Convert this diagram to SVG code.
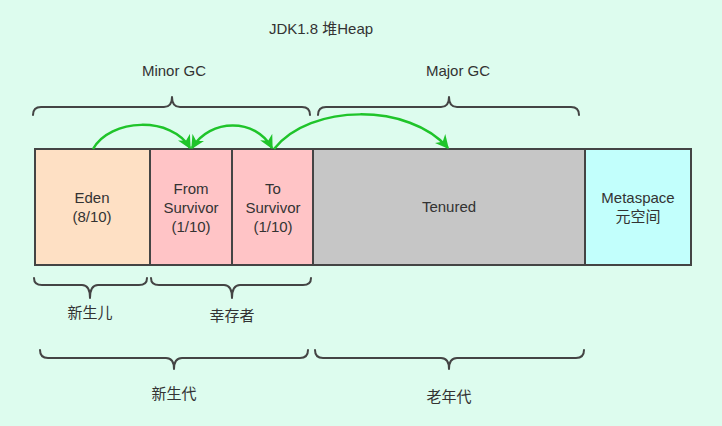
<svg xmlns="http://www.w3.org/2000/svg" width="722" height="426" viewBox="0 0 722 426">
<defs>
<style>
text{font-family:"Liberation Sans","Noto Sans CJK SC",sans-serif;font-size:15px;fill:#333;text-anchor:middle}
.box{stroke:#444;stroke-width:2}
.brace{fill:none;stroke:#444;stroke-width:2;stroke-linecap:round;stroke-linejoin:round}
.arr{fill:none;stroke:#1fc42a;stroke-width:2.5}
</style>
<marker id="ah" viewBox="0 0 10 10" refX="9" refY="5" markerWidth="5.5" markerHeight="5.5" orient="auto-start-reverse" markerUnits="strokeWidth">
<path d="M0,0 L10,5 L0,10 L3,5 z" fill="#1fc42a"/>
</marker>
</defs>
<rect width="722" height="426" fill="#ddfcee"/>
<text x="321" y="34">JDK1.8 堆Heap</text>
<g id="minor-gc">
<text x="174" y="76">Minor GC</text>
<path class="brace" d="M33,115 Q33,107 41,107 L164,107 Q172,107 172,97 Q172,107 180,107 L302,107 Q310,107 310,115"/>
</g>
<g id="major-gc">
<text x="458" y="76">Major GC</text>
<path class="brace" d="M318,115 Q318,107 326,107 L441,107 Q449,107 449,97 Q449,107 457,107 L571,107 Q579,107 579,115"/>
</g>
<g id="eden"><rect class="box" x="35" y="149" width="115" height="116" fill="#fee0c4"/>
<text x="92" y="203">Eden</text><text x="92" y="222">(8/10)</text></g>
<g id="from"><rect class="box" x="150" y="149" width="82" height="116" fill="#ffc4c6"/>
<text x="191" y="194">From</text><text x="191" y="213">Survivor</text><text x="191" y="232">(1/10)</text></g>
<g id="to"><rect class="box" x="232" y="149" width="81" height="116" fill="#ffc4c6"/>
<text x="273" y="194">To</text><text x="273" y="213">Survivor</text><text x="273" y="232">(1/10)</text></g>
<g id="tenured"><rect class="box" x="313" y="149" width="272" height="116" fill="#c6c6c6"/>
<text x="449" y="212">Tenured</text></g>
<g id="metaspace"><rect class="box" x="585" y="149" width="106" height="116" fill="#c2fffc"/>
<text x="638" y="203">Metaspace</text><text x="638" y="222">元空间</text></g>
<g id="connectors">
<path class="arr" d="M93,149 C110,118 172,116 190,148" marker-end="url(#ah)"/>
<path class="arr" d="M192,148 C210,118 256,118 272,148" marker-start="url(#ah)" marker-end="url(#ah)"/>
<path class="arr" d="M274,149 C310,103 410,103 448,148" marker-end="url(#ah)"/>
</g>
<g id="xinshenger">
<path class="brace" d="M34,278 Q34,285 42,285 L82,285 Q90,285 90,298 Q90,285 98,285 L139,285 Q147,285 147,278"/>
<text x="90" y="318">新生儿</text></g>
<g id="xingcunzhe">
<path class="brace" d="M151,278 Q151,285 159,285 L224,285 Q232,285 232,298 Q232,285 240,285 L303,285 Q311,285 311,278"/>
<text x="232" y="321">幸存者</text></g>
<g id="xinshengdai">
<path class="brace" d="M40,350 Q40,358 48,358 L166,358 Q174,358 174,369 Q174,358 182,358 L300,358 Q308,358 308,350"/>
<text x="174" y="399">新生代</text></g>
<g id="laoniandai">
<path class="brace" d="M315,350 Q315,358 323,358 L441,358 Q449,358 449,369 Q449,358 457,358 L576,358 Q584,358 584,350"/>
<text x="449" y="402">老年代</text></g>
</svg>
